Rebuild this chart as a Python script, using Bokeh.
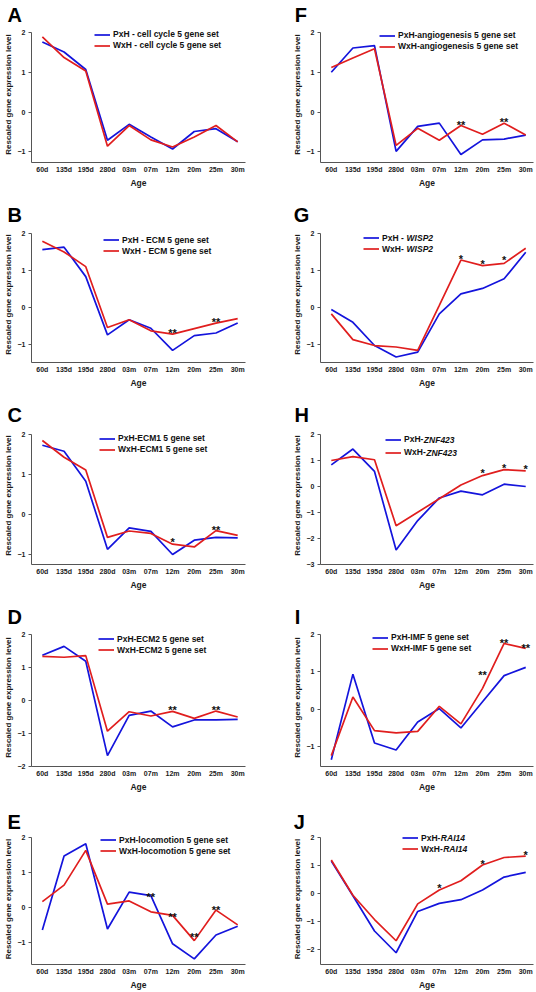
from bokeh.plotting import figure
from bokeh.models import Range1d, FixedTicker, Legend, LegendItem, Label
from bokeh.layouts import column, row
from bokeh.embed import file_html
from bokeh.resources import INLINE
from bokeh.core.properties import value

# ---------------- data ----------------
ages = ["60d", "135d", "195d", "280d", "03m", "07m", "12m", "20m", "25m", "30m"]

a_pxh = [1.76, 1.51, 1.07, -0.71, -0.31, -0.63, -0.93, -0.49, -0.42, -0.75]
a_wxh = [1.89, 1.37, 1.03, -0.86, -0.34, -0.70, -0.88, -0.63, -0.34, -0.75]

b_pxh = [1.56, 1.63, 0.83, -0.75, -0.34, -0.57, -1.17, -0.77, -0.70, -0.43]
b_wxh = [1.79, 1.50, 1.10, -0.55, -0.34, -0.64, -0.73, -0.58, -0.43, -0.31]
b_star_age = ["12m", "25m"]
b_star_y = [-0.61, -0.31]
b_star_txt = ["**", "**"]

c_pxh = [1.73, 1.58, 0.83, -0.88, -0.34, -0.43, -1.01, -0.65, -0.58, -0.59]
c_wxh = [1.85, 1.43, 1.11, -0.58, -0.42, -0.48, -0.75, -0.82, -0.41, -0.53]
c_star_age = ["12m", "25m"]
c_star_y = [-0.63, -0.32]
c_star_txt = ["*", "**"]

d_pxh = [1.37, 1.64, 1.19, -1.67, -0.45, -0.32, -0.80, -0.59, -0.59, -0.57]
d_wxh = [1.34, 1.31, 1.36, -0.93, -0.34, -0.47, -0.33, -0.54, -0.32, -0.50]
d_star_age = ["12m", "25m"]
d_star_y = [-0.19, -0.19]
d_star_txt = ["**", "**"]

e_pxh = [-0.64, 1.47, 1.82, -0.61, 0.44, 0.34, -1.03, -1.46, -0.78, -0.53]
e_wxh = [0.17, 0.64, 1.63, 0.10, 0.19, -0.12, -0.22, -0.94, -0.07, -0.49]
e_star_age = ["07m", "12m", "20m", "25m"]
e_star_y = [0.39, -0.17, -0.75, 0.02]
e_star_txt = ["**", "**", "**", "**"]

f_pxh = [1.00, 1.61, 1.67, -0.99, -0.36, -0.28, -1.07, -0.70, -0.68, -0.58]
f_wxh = [1.12, 1.36, 1.59, -0.84, -0.41, -0.71, -0.34, -0.56, -0.28, -0.58]
f_star_age = ["12m", "25m"]
f_star_y = [-0.25, -0.18]
f_star_txt = ["**", "**"]

g_pxh = [-0.06, -0.41, -1.04, -1.35, -1.22, -0.18, 0.36, 0.51, 0.77, 1.49]
g_wxh = [-0.18, -0.88, -1.04, -1.08, -1.17, 0.05, 1.28, 1.13, 1.19, 1.60]
g_star_age = ["12m", "20m", "25m"]
g_star_y = [1.40, 1.26, 1.35]
g_star_txt = ["*", "*", "*"]

h_pxh = [0.83, 1.44, 0.58, -2.44, -1.31, -0.44, -0.18, -0.32, 0.09, 0.00]
h_wxh = [1.00, 1.15, 1.03, -1.51, -0.99, -0.47, 0.06, 0.42, 0.65, 0.60]
h_star_age = ["20m", "25m", "30m"]
h_star_y = [0.62, 0.83, 0.78]
h_star_txt = ["*", "*", "*"]

i_pxh = [-1.35, 0.94, -0.90, -1.09, -0.34, 0.02, -0.50, 0.20, 0.90, 1.12]
i_wxh = [-1.24, 0.33, -0.57, -0.63, -0.59, 0.08, -0.39, 0.56, 1.76, 1.63]
i_star_age = ["20m", "25m", "30m"]
i_star_y = [0.99, 1.85, 1.71]
i_star_txt = ["**", "**", "**"]

j_pxh = [1.15, -0.09, -1.35, -2.13, -0.65, -0.36, -0.23, 0.12, 0.58, 0.75]
j_wxh = [1.19, -0.07, -0.94, -1.70, -0.38, 0.12, 0.45, 1.01, 1.28, 1.33]
j_star_age = ["07m", "20m", "30m"]
j_star_y = [0.29, 1.15, 1.46]
j_star_txt = ["*", "*", "*"]

# ---------------- style ----------------
FONT = "Liberation Sans"
BLUE = "#1414dc"
RED = "#e01e1e"
AXIS = "#555555"
LEG_FS = 8.5
# Arial/Liberation Sans Bold advance widths (em) for legend prefixes
ADV = {"P": .667, "x": .556, "H": .722, " ": .278, "-": .333, "W": .944}


def text_w(s, fs):
    return sum(ADV.get(ch, .556) for ch in s) * fs


ROWS = [  # fig height, frame-top offset, frame height (for 2..ymin), headroom
    (200, 32, 130, 6),
    (200, 33, 129, 7),
    (202, 34, 130, 8),
    (205, 32, 132, 6),
    (185, 30, 130, 4),
]
COLS = [  # width, left border, right border
    (268, 31, 23),
    (268, 52, 3),
]


def panel(letter, col, rw, pxh, wxh, labels, italic, ymin, yticks,
          stars, leg, letter_dx):
    W, bl, br = COLS[col]
    H, bt, fh, ext = ROWS[rw]
    bb = H - bt - fh
    ytop = 2 + ext * (2 - ymin) / fh
    p = figure(width=W, height=H, output_backend="svg", toolbar_location=None,
               x_range=Range1d(-0.5, 9.36), y_range=Range1d(ymin, ytop),
               min_border_left=bl, min_border_right=br,
               min_border_top=bt - ext, min_border_bottom=bb)
    p.outline_line_color = None
    p.grid.visible = False
    p.background_fill_color = "white"
    p.border_fill_color = "white"

    p.title.text = letter
    p.title.align = "left"
    p.title.offset = letter_dx
    p.title.standoff = 2
    p.title.text_font = FONT
    p.title.text_font_style = "bold"
    p.title.text_font_size = "20px"
    p.title.text_color = "#000000"
    p.title.text_line_height = 0.8

    idx = list(range(len(ages)))
    r1 = p.line(idx, pxh, color=BLUE, line_width=1.7)
    r2 = p.line(idx, wxh, color=RED, line_width=1.7)

    if stars is not None:
        s_age, s_y, s_t = stars
        p.text([ages.index(a) for a in s_age], s_y, text=s_t,
               text_font=value(FONT), text_font_style="bold",
               text_font_size="11px", text_color="#111111",
               text_align="center", text_baseline="middle", y_offset=3)

    xa = p.xaxis[0]
    xa.ticker = FixedTicker(ticks=idx)
    xa.major_label_overrides = {i: a for i, a in enumerate(ages)}
    xa.axis_label = "Age"
    xa.axis_label_standoff = 2
    xa.major_label_standoff = 3
    xa.major_tick_out = 0
    xa.major_tick_in = 0
    xa.minor_tick_out = 0
    xa.minor_tick_in = 0

    ya = p.yaxis[0]
    ya.ticker = FixedTicker(ticks=yticks)
    ya.bounds = (ymin, 2)
    ya.axis_label = "Rescaled gene expression level"
    ya.axis_label_standoff = 2
    ya.major_label_standoff = 3
    ya.major_tick_out = 3
    ya.major_tick_in = 0
    ya.minor_tick_out = 0
    ya.minor_tick_in = 0

    for ax in (xa, ya):
        ax.axis_line_color = AXIS
        ax.axis_line_width = 1
        ax.major_tick_line_color = AXIS
        ax.major_label_text_font = FONT
        ax.major_label_text_font_style = "bold"
        ax.major_label_text_font_size = "7px"
        ax.major_label_text_color = "#1a1a1a"
        ax.axis_label_text_font = FONT
        ax.axis_label_text_font_style = "bold"
        ax.axis_label_text_color = "#1a1a1a"
    xa.axis_label_text_font_size = "8.5px"
    ya.axis_label_text_font_size = "8px"

    lx, c1, sp = leg
    rowh = 11
    leg_h = 2 * rowh + sp
    top = c1 - rowh / 2
    legend = Legend(items=[LegendItem(label=value(labels[0]), renderers=[r1]),
                           LegendItem(label=value(labels[1]), renderers=[r2])],
                    location=(lx, fh - top - leg_h),
                    padding=0, margin=0, spacing=sp,
                    glyph_width=16, glyph_height=rowh, label_height=rowh,
                    label_standoff=3, border_line_color=None,
                    background_fill_alpha=0,
                    label_text_font=FONT, label_text_font_style="bold",
                    label_text_font_size=f"{LEG_FS}px", label_text_color="#111111")
    p.add_layout(legend)
    if italic:
        for k in range(2):
            cy = top + k * (rowh + sp) + rowh / 2
            p.add_layout(Label(x=lx + 16 + 3 + text_w(labels[k], LEG_FS),
                               y=fh - cy, x_units="screen", y_units="screen",
                               text=italic, text_font=FONT,
                               text_font_style="bold italic",
                               text_font_size=f"{LEG_FS}px",
                               text_color="#111111", text_baseline="middle"))
    return p


pA = panel("A", 0, 0, a_pxh, a_wxh,
           ["PxH - cell cycle 5 gene set", "WxH - cell cycle 5 gene set"], None,
           -1.27, [-1, 0, 1, 2], None, (63, 2.0, 0), -24)
pB = panel("B", 0, 1, b_pxh, b_wxh,
           ["PxH - ECM 5 gene set", "WxH - ECM 5 gene set"], None,
           -1.5, [-1, 0, 1, 2], (b_star_age, b_star_y, b_star_txt),
           (72, 6.6, 0), -24)
pC = panel("C", 0, 2, c_pxh, c_wxh,
           ["PxH-ECM1 5 gene set", "WxH-ECM1 5 gene set"], None,
           -1.26, [-1, 0, 1, 2], (c_star_age, c_star_y, c_star_txt),
           (68, 4.3, 0), -24)
pD = panel("D", 0, 3, d_pxh, d_wxh,
           ["PxH-ECM2 5 gene set", "WxH-ECM2 5 gene set"], None,
           -2.0, [-2, -1, 0, 1, 2], (d_star_age, d_star_y, d_star_txt),
           (67, 4.7, 0), -24)
pE = panel("E", 0, 4, e_pxh, e_wxh,
           ["PxH-locomotion 5 gene set", "WxH-locomotion 5 gene set"], None,
           -1.62, [-1, 0, 1, 2], (e_star_age, e_star_y, e_star_txt),
           (69, 5.7, 0), -24)
pF = panel("F", 1, 0, f_pxh, f_wxh,
           ["PxH-angiogenesis 5 gene set", "WxH-angiogenesis 5 gene set"], None,
           -1.27, [-1, 0, 1, 2], (f_star_age, f_star_y, f_star_txt),
           (59, 3.4, 0), -25.7)
pG = panel("G", 1, 1, g_pxh, g_wxh,
           ["PxH - ", "WxH- "], "WISP2",
           -1.5, [-1, 0, 1, 2], (g_star_age, g_star_y, g_star_txt),
           (43, 4.6, 0), -26.7)
pH = panel("H", 1, 2, h_pxh, h_wxh,
           ["PxH-", "WxH-"], "ZNF423",
           -3.0, [-3, -2, -1, 0, 1, 2], (h_star_age, h_star_y, h_star_txt),
           (65, 5.0, 2), -26)
pI = panel("I", 1, 3, i_pxh, i_wxh,
           ["PxH-IMF 5 gene set", "WxH-IMF 5 gene set"], None,
           -1.53, [-1, 0, 1, 2], (i_star_age, i_star_y, i_star_txt),
           (52, 3.3, 0), -25.7)
pJ = panel("J", 1, 4, j_pxh, j_wxh,
           ["PxH-", "WxH-"], "RAI14",
           -2.55, [-2, -1, 0, 1, 2], (j_star_age, j_star_y, j_star_txt),
           (82, 3.5, 0), -26.7)

layout = column(row(pA, pF), row(pB, pG), row(pC, pH), row(pD, pI), row(pE, pJ))

open("out.html", "w").write(file_html(layout, INLINE))
